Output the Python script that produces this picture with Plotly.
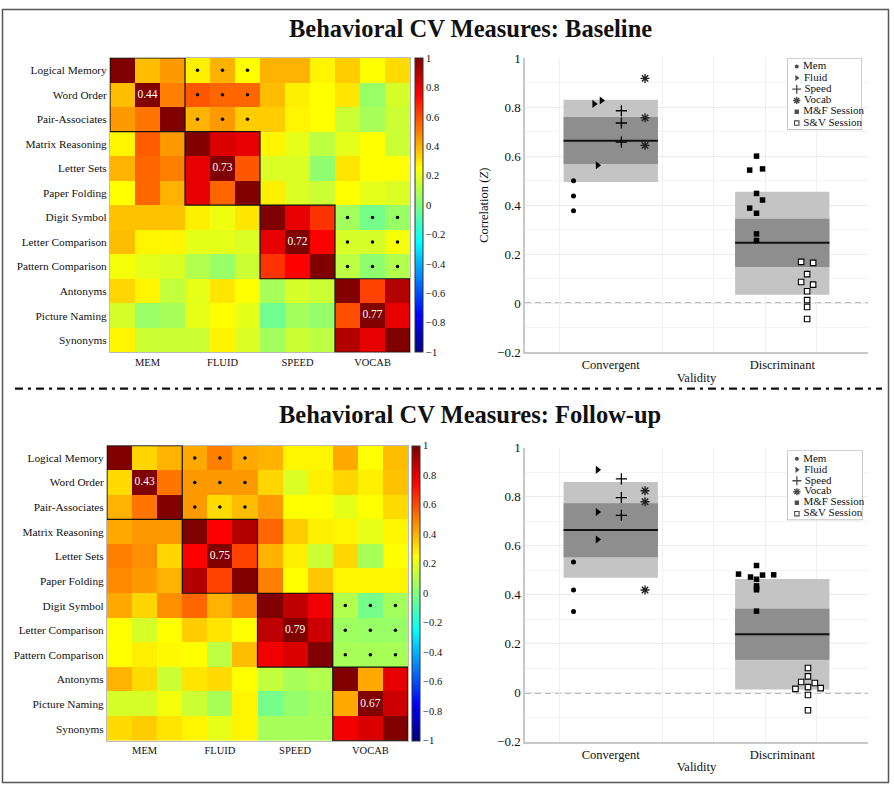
import plotly.graph_objects as go

# ---------------- DATA ----------------
measures = ["Logical Memory", "Word Order", "Pair-Associates", "Matrix Reasoning",
            "Letter Sets", "Paper Folding", "Digit Symbol", "Letter Comparison",
            "Pattern Comparison", "Antonyms", "Picture Naming", "Synonyms"]
domains = ["MEM", "FLUID", "SPEED", "VOCAB"]

baseline_corr = [
    [1.00, 0.38, 0.45, 0.28, 0.40, 0.25, 0.40, 0.40, 0.27, 0.35, 0.25, 0.32],
    [0.38, 1.00, 0.50, 0.58, 0.55, 0.55, 0.38, 0.28, 0.25, 0.30, 0.05, 0.17],
    [0.45, 0.52, 1.00, 0.40, 0.45, 0.35, 0.35, 0.27, 0.25, 0.15, 0.08, 0.15],
    [0.27, 0.57, 0.45, 1.00, 0.82, 0.80, 0.27, 0.20, 0.12, 0.20, 0.25, 0.15],
    [0.40, 0.55, 0.50, 0.80, 1.00, 0.58, 0.18, 0.18, 0.03, 0.30, 0.25, 0.25],
    [0.25, 0.55, 0.40, 0.80, 0.55, 1.00, 0.28, 0.18, 0.15, 0.25, 0.20, 0.18],
    [0.37, 0.37, 0.37, 0.28, 0.22, 0.30, 1.00, 0.80, 0.65, 0.07, -0.02, 0.05],
    [0.38, 0.27, 0.27, 0.20, 0.20, 0.18, 0.80, 1.00, 0.75, 0.17, 0.17, 0.23],
    [0.23, 0.20, 0.18, 0.10, 0.05, 0.15, 0.65, 0.75, 1.00, 0.12, 0.03, 0.10],
    [0.33, 0.27, 0.13, 0.20, 0.30, 0.25, 0.08, 0.17, 0.15, 1.00, 0.62, 0.90],
    [0.17, 0.05, 0.08, 0.20, 0.25, 0.20, -0.03, 0.07, 0.04, 0.60, 1.00, 0.80],
    [0.27, 0.15, 0.15, 0.15, 0.27, 0.18, 0.07, 0.15, 0.12, 0.90, 0.80, 1.00],
]

followup_corr = [
    [1.00, 0.33, 0.40, 0.42, 0.50, 0.42, 0.40, 0.27, 0.27, 0.42, 0.25, 0.38],
    [0.32, 1.00, 0.52, 0.45, 0.45, 0.45, 0.33, 0.18, 0.28, 0.33, 0.28, 0.37],
    [0.40, 0.52, 1.00, 0.45, 0.32, 0.38, 0.45, 0.25, 0.25, 0.20, 0.25, 0.32],
    [0.42, 0.45, 0.45, 1.00, 0.75, 0.90, 0.55, 0.35, 0.28, 0.27, 0.20, 0.27],
    [0.50, 0.47, 0.33, 0.75, 1.00, 0.62, 0.40, 0.28, 0.15, 0.33, 0.08, 0.25],
    [0.48, 0.45, 0.40, 0.90, 0.62, 1.00, 0.50, 0.25, 0.36, 0.27, 0.27, 0.27],
    [0.42, 0.33, 0.47, 0.55, 0.40, 0.48, 1.00, 0.88, 0.78, 0.10, -0.02, 0.07],
    [0.25, 0.17, 0.25, 0.35, 0.30, 0.25, 0.88, 1.00, 0.85, 0.06, 0.05, 0.05],
    [0.25, 0.28, 0.26, 0.25, 0.12, 0.38, 0.78, 0.82, 1.00, 0.08, 0.08, 0.08],
    [0.40, 0.32, 0.15, 0.30, 0.32, 0.25, 0.13, 0.08, 0.10, 1.00, 0.42, 0.80],
    [0.17, 0.17, 0.23, 0.15, 0.08, 0.27, -0.02, 0.04, 0.07, 0.42, 1.00, 0.85],
    [0.32, 0.35, 0.30, 0.27, 0.20, 0.27, 0.08, 0.08, 0.08, 0.78, 0.82, 1.00],
]

baseline_block_means = [0.44, 0.73, 0.72, 0.77]
followup_block_means = [0.43, 0.75, 0.79, 0.67]
sig_block_pairs = [(0, 1), (2, 3)]          # MEM x FLUID, SPEED x VOCAB

colorbar_ticks = [1, 0.8, 0.6, 0.4, 0.2, 0, -0.2, -0.4, -0.6, -0.8, -1]
validity_categories = ["Convergent", "Discriminant"]
corr_ticks = [-0.2, 0, 0.2, 0.4, 0.6, 0.8, 1]

# Baseline validity values (Z) and horizontal jitter
base_mem = [0.500, 0.437, 0.377]
base_mem_jit = [-0.217, -0.217, -0.217]
base_fluid = [0.813, 0.827, 0.563]
base_fluid_jit = [-0.097, -0.054, -0.077]
base_speed = [0.785, 0.735, 0.657]
base_speed_jit = [0.062, 0.062, 0.062]
base_vocab = [0.917, 0.756, 0.644]
base_vocab_jit = [0.20, 0.20, 0.20]
base_mf = [0.543, 0.600, 0.548, 0.448, 0.421, 0.388, 0.367, 0.283, 0.256]
base_mf_jit = [-0.19, -0.15, -0.115, -0.15, -0.115, -0.19, -0.15, -0.15, -0.15]
base_sv = [0.169, 0.165, 0.119, 0.087, 0.076, 0.049, 0.013, -0.015, -0.064]
base_sv_jit = [0.11, 0.18, 0.145, 0.11, 0.18, 0.145, 0.145, 0.145, 0.145]
base_outer_lo = [0.495, 0.035]
base_outer_hi = [0.830, 0.455]
base_inner_lo = [0.568, 0.148]
base_inner_hi = [0.760, 0.345]
base_mean = [0.663, 0.247]

# Follow-up validity values (Z) and horizontal jitter
fu_mem = [0.533, 0.419, 0.331]
fu_mem_jit = [-0.217, -0.217, -0.217]
fu_fluid = [0.909, 0.737, 0.625]
fu_fluid_jit = [-0.077, -0.077, -0.077]
fu_speed = [0.872, 0.796, 0.723]
fu_speed_jit = [0.062, 0.062, 0.062]
fu_vocab = [0.824, 0.779, 0.419]
fu_vocab_jit = [0.20, 0.20, 0.20]
fu_mf = [0.484, 0.472, 0.519, 0.463, 0.480, 0.481, 0.436, 0.427, 0.420, 0.333]
fu_mf_jit = [-0.255, -0.185, -0.15, -0.15, -0.115, -0.05, -0.15, -0.15, -0.15, -0.15]
fu_sv = [0.101, 0.067, 0.044, 0.040, 0.016, 0.023, 0.019, -0.009, -0.071]
fu_sv_jit = [0.15, 0.15, 0.11, 0.19, 0.077, 0.15, 0.224, 0.15, 0.15]
fu_outer_lo = [0.469, 0.013]
fu_outer_hi = [0.859, 0.464]
fu_inner_lo = [0.553, 0.135]
fu_inner_hi = [0.773, 0.343]
fu_mean = [0.664, 0.239]

legend_labels = ["Mem", "Fluid", "Speed", "Vocab", "M&F Session", "S&V Session"]

# ---------------- STYLE ----------------
W, H = 894, 795
FONT = "Liberation Serif, DejaVu Serif, serif"
JET = [[0.0, "rgb(0,0,128)"], [0.125, "rgb(0,0,255)"], [0.375, "rgb(0,255,255)"],
       [0.625, "rgb(255,255,0)"], [0.875, "rgb(255,0,0)"], [1.0, "rgb(128,0,0)"]]

SYM = {
    "Mem": dict(symbol="circle", size=5, color="black", line=dict(width=0, color="black")),
    "Fluid": dict(symbol="triangle-right", size=7, color="black", line=dict(width=0, color="black")),
    "Speed": dict(symbol="cross-thin", size=8, color="black", line=dict(width=1.3, color="black")),
    "Vocab": dict(symbol="asterisk", size=7.5, color="#222", line=dict(width=1.4, color="#222")),
    "M&F Session": dict(symbol="square", size=5.5, color="black", line=dict(width=0, color="black")),
    "S&V Session": dict(symbol="square", size=5.5, color="white", line=dict(width=1.1, color="black")),
}

LEG_Y_RANGE = [5.585, -0.76]


def xd(a, b):
    return [a / W, b / W]


def yd(top, bottom):
    return [1 - bottom / H, 1 - top / H]


fig = go.Figure()


def add_heatmap(z, means, xa, ya, cb_left, top, bottom):
    n = len(measures)
    fig.add_trace(go.Heatmap(
        z=z, x=list(range(n)), y=list(range(n)), zmin=-1, zmax=1,
        colorscale=JET, xaxis=xa, yaxis=ya, hoverinfo="skip",
        colorbar=dict(x=cb_left / W, xanchor="left", xpad=0, ypad=0,
                      y=1 - (top + bottom) / 2 / H, yanchor="middle",
                      len=(bottom - top) / H, lenmode="fraction",
                      thickness=8, thicknessmode="pixels",
                      outlinewidth=1, outlinecolor="#333",
                      tickvals=colorbar_ticks,
                      ticktext=[("%g" % v).replace("-", "\u2212") for v in colorbar_ticks],
                      ticks="",
                      tickfont=dict(family=FONT, size=10.5, color="#111"))))
    dx, dy = [], []
    for a, b in sig_block_pairs:
        for r in range(3 * a, 3 * a + 3):
            for c in range(3 * b, 3 * b + 3):
                dx.append(c)
                dy.append(r)
    fig.add_trace(go.Scatter(x=dx, y=dy, mode="markers", xaxis=xa, yaxis=ya,
                             marker=dict(size=3.5, color="black"),
                             showlegend=False, hoverinfo="skip"))
    centers = [3 * k + 1 for k in range(len(domains))]
    fig.add_trace(go.Scatter(x=centers, y=centers, mode="text", xaxis=xa, yaxis=ya,
                             text=["%.2f" % m for m in means],
                             textfont=dict(family=FONT, size=11.5, color="white"),
                             showlegend=False, hoverinfo="skip"))
    for k in range(len(domains)):
        fig.add_shape(type="rect", xref=xa, yref=ya,
                      x0=3 * k - 0.5, x1=3 * k + 2.5, y0=3 * k - 0.5, y1=3 * k + 2.5,
                      line=dict(color="#111", width=1.2), layer="above")


def add_validity(xa, ya, series, outer_lo, outer_hi, inner_lo, inner_hi, means):
    cats = list(range(len(validity_categories)))
    fig.add_shape(type="line", xref="paper", yref=ya,
                  x0=fig.layout[xa.replace("x", "xaxis")].domain[0],
                  x1=fig.layout[xa.replace("x", "xaxis")].domain[1],
                  y0=0, y1=0,
                  line=dict(color="#777", width=1.6, dash="6px,4px"), layer="below")
    fig.add_trace(go.Bar(x=cats, base=outer_lo,
                         y=[h - l for h, l in zip(outer_hi, outer_lo)],
                         width=0.55, marker=dict(color="#c4c4c4", line=dict(width=0)),
                         xaxis=xa, yaxis=ya, showlegend=False, hoverinfo="skip"))
    fig.add_trace(go.Bar(x=cats, base=inner_lo,
                         y=[h - l for h, l in zip(inner_hi, inner_lo)],
                         width=0.55, marker=dict(color="#8e8e8e", line=dict(width=0)),
                         xaxis=xa, yaxis=ya, showlegend=False, hoverinfo="skip"))
    mx, my = [], []
    for c, m in zip(cats, means):
        mx += [c - 0.275, c + 0.275, None]
        my += [m, m, None]
    fig.add_trace(go.Scatter(x=mx, y=my, mode="lines", line=dict(color="#111", width=2),
                             xaxis=xa, yaxis=ya, showlegend=False, hoverinfo="skip"))
    for name, cat, vals, jit in series:
        fig.add_trace(go.Scatter(x=[cat + j for j in jit], y=vals, mode="markers",
                                 marker=SYM[name], name=name, xaxis=xa, yaxis=ya,
                                 showlegend=False, cliponaxis=False))


def add_legend(xa, ya):
    n = len(legend_labels)
    # legend frame (white box drawn inside the legend's own subplot)
    fig.add_trace(go.Scatter(x=[0, 1, 1, 0, 0],
                             y=[LEG_Y_RANGE[1], LEG_Y_RANGE[1], LEG_Y_RANGE[0], LEG_Y_RANGE[0], LEG_Y_RANGE[1]],
                             mode="lines", fill="toself", fillcolor="white",
                             line=dict(color="#aaa", width=1.2),
                             xaxis=xa, yaxis=ya, showlegend=False, hoverinfo="skip", cliponaxis=False))
    fig.add_trace(go.Scatter(
        x=[0.13] * n, y=list(range(n)), mode="markers+text",
        text=[" " + t for t in legend_labels], textposition="middle right",
        textfont=dict(family=FONT, size=11, color="#111"),
        marker=dict(symbol=[SYM[t]["symbol"] for t in legend_labels],
                    size=[SYM[t]["size"] * 0.8 for t in legend_labels],
                    color=[SYM[t]["color"] for t in legend_labels],
                    line=dict(width=[SYM[t]["line"]["width"] for t in legend_labels],
                              color="black")),
        xaxis=xa, yaxis=ya, showlegend=False, hoverinfo="skip", cliponaxis=False))


tick_font = dict(family=FONT, size=11.3, color="#111")
n = len(measures)
heat_x = dict(range=[-0.5, n - 0.5], tickvals=[3 * k + 1 for k in range(len(domains))],
              ticktext=domains, ticks="", showgrid=False, zeroline=False,
              showline=True, linecolor="#bbb", mirror=True,
              tickfont=dict(family=FONT, size=10.5, color="#111"))
heat_y = dict(range=[n - 0.5, -0.5], tickvals=list(range(n)), ticktext=measures,
              ticks="", showgrid=False, zeroline=False,
              showline=True, linecolor="#bbb", mirror=True, tickfont=tick_font)

val_x = dict(range=[-0.5, 1.5], tickvals=[0, 1], ticktext=validity_categories, ticks="",
             showgrid=False, zeroline=False, showline=True, linecolor="#c8c8c8", linewidth=1.5,
             tickfont=dict(family=FONT, size=12.5, color="#111"),
             title=dict(text="Validity", font=dict(family=FONT, size=12.5, color="#111"), standoff=2),
             minor=dict(tickvals=[-0.3, 0.3, 0.6, 0.9, 1.2], showgrid=True, gridcolor="#f0f0f0", gridwidth=1))
val_y = dict(range=[-0.2, 1], tickvals=corr_ticks,
             ticktext=[("%g" % v).replace("-", "\u2212") for v in corr_ticks],
             ticks="", showgrid=True, gridcolor="#ebebeb", zeroline=False,
             showline=True, linecolor="#c8c8c8", linewidth=1.5,
             tickfont=dict(family=FONT, size=13, color="#111"),
             minor=dict(dtick=0.1, showgrid=True, gridcolor="#f3f3f3"))

leg_axis = dict(visible=False, fixedrange=True)

fig.update_layout(
    width=W, height=H, margin=dict(l=0, r=0, t=0, b=0),
    paper_bgcolor="white", plot_bgcolor="white", showlegend=False,
    barmode="overlay",
    font=dict(family=FONT, color="#111"),
    xaxis=dict(domain=xd(110, 410), anchor="y", **heat_x),
    yaxis=dict(domain=yd(52, 352), anchor="x", **heat_y),
    xaxis3=dict(domain=xd(107, 408), anchor="y3", **heat_x),
    yaxis3=dict(domain=yd(447, 748), anchor="x3", **heat_y),
    xaxis2=dict(domain=xd(525, 868), anchor="y2", **val_x),
    yaxis2=dict(domain=yd(52, 352), anchor="x2",
                title=dict(text="Correlation (<i>Z</i>)", font=dict(family=FONT, size=12.5, color="#111"),
                           standoff=6), **val_y),
    xaxis4=dict(domain=xd(525, 868), anchor="y4", **val_x),
    yaxis4=dict(domain=yd(449, 749), anchor="x4", **val_y),
    xaxis5=dict(domain=xd(787, 862), anchor="y5", range=[0, 1], **leg_axis),
    yaxis5=dict(domain=yd(52, 125), anchor="x5", range=LEG_Y_RANGE, **leg_axis),
    xaxis6=dict(domain=xd(787, 863), anchor="y6", range=[0, 1], **leg_axis),
    yaxis6=dict(domain=yd(452, 523), anchor="x6", range=LEG_Y_RANGE, **leg_axis),
)

# ---- top row ----
add_heatmap(baseline_corr, baseline_block_means, "x", "y", 414.5, 52, 352)
add_validity("x2", "y2", [
    ("Mem", 0, base_mem, base_mem_jit), ("Fluid", 0, base_fluid, base_fluid_jit),
    ("Speed", 0, base_speed, base_speed_jit), ("Vocab", 0, base_vocab, base_vocab_jit),
    ("M&F Session", 1, base_mf, base_mf_jit), ("S&V Session", 1, base_sv, base_sv_jit)],
    base_outer_lo, base_outer_hi, base_inner_lo, base_inner_hi, base_mean)
add_legend("x5", "y5")

# ---- bottom row ----
add_heatmap(followup_corr, followup_block_means, "x3", "y3", 411.5, 447, 748)
add_validity("x4", "y4", [
    ("Mem", 0, fu_mem, fu_mem_jit), ("Fluid", 0, fu_fluid, fu_fluid_jit),
    ("Speed", 0, fu_speed, fu_speed_jit), ("Vocab", 0, fu_vocab, fu_vocab_jit),
    ("M&F Session", 1, fu_mf, fu_mf_jit), ("S&V Session", 1, fu_sv, fu_sv_jit)],
    fu_outer_lo, fu_outer_hi, fu_inner_lo, fu_inner_hi, fu_mean)
add_legend("x6", "y6")

# titles
fig.add_annotation(text="<b>Behavioral CV Measures: Baseline</b>", xref="paper", yref="paper",
                   x=470 / W, y=1 - 22 / H, xanchor="center", yanchor="middle", showarrow=False,
                   font=dict(family=FONT, size=24.5, color="#111"))
fig.add_annotation(text="<b>Behavioral CV Measures: Follow-up</b>", xref="paper", yref="paper",
                   x=470 / W, y=1 - 415 / H, xanchor="center", yanchor="middle", showarrow=False,
                   font=dict(family=FONT, size=24.5, color="#111"))

# separator and frame
fig.add_shape(type="line", xref="paper", yref="paper", x0=15 / W, x1=882 / W,
              y0=1 - 389 / H, y1=1 - 389 / H,
              line=dict(color="#111", width=2.4, dash="8px,5px,3px,5px"))
fig.add_shape(type="rect", xref="paper", yref="paper", x0=2.5 / W, x1=888.5 / W,
              y0=1 - 790.5 / H, y1=1 - 2.5 / H, line=dict(color="#555", width=1.5))

fig.write_html("out.html", config={"displayModeBar": False},
               post_script="document.body.style.margin='0';")
